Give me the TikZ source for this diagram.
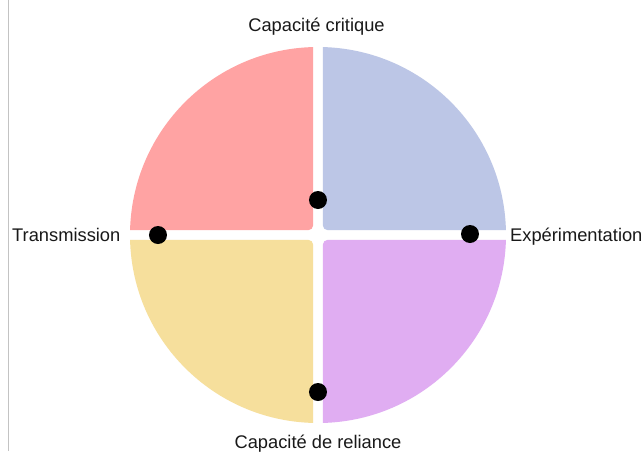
\documentclass[tikz,border=0pt]{standalone}
\usepackage{fontspec}
\setmainfont{Liberation Sans}
\definecolor{qred}{RGB}{255,163,163}
\definecolor{qblue}{RGB}{188,198,230}
\definecolor{qyellow}{RGB}{246,223,156}
\definecolor{qpurple}{RGB}{224,173,242}
\definecolor{edgegrey}{RGB}{195,195,195}
\begin{document}
\begin{tikzpicture}[x=1pt,y=1pt,
  lbl/.style={font=\fontsize{18.3}{21}\selectfont, text=black!90, inner sep=0pt},
  dot/.style={circle, fill=black, minimum size=18pt, inner sep=0pt},
  quad/.style={draw=none}]
\useasboundingbox (-318,-216) rectangle (325,235);
\fill[white] (-318,-216) rectangle (325,235);
\draw[edgegrey, line width=1pt] (-309.5,-216) -- (-309.5,235);
\def\g{4.8}
\def\R{188}
\def\r{5}
\def\a{187.94}
\def\th{1.463}
\foreach \rot/\col in {0/qblue, 90/qred, 180/qyellow, 270/qpurple}{
  \begin{scope}[rotate=\rot]
    \fill[\col] (\g,\g+\r) arc[start angle=180, end angle=270, radius=\r]
      -- (\a,\g) arc[start angle=\th, end angle=90-\th, radius=\R] -- cycle;
  \end{scope}
}
\node[dot] (dtop) at (0,35) {};
\node[dot] (dleft) at (-160,0) {};
\node[dot] (dright) at (152,1) {};
\node[dot] (dbottom) at (0,-157) {};
\node[lbl, anchor=base] (ltop) at (-1.5,204) {Capacité critique};
\node[lbl, anchor=base west] (lleft) at (-306,-6) {Transmission};
\node[lbl, anchor=base west] (lright) at (192,-6) {Expérimentation};
\node[lbl, anchor=base] (lbottom) at (0,-213) {Capacité de reliance};
\end{tikzpicture}
\end{document}
